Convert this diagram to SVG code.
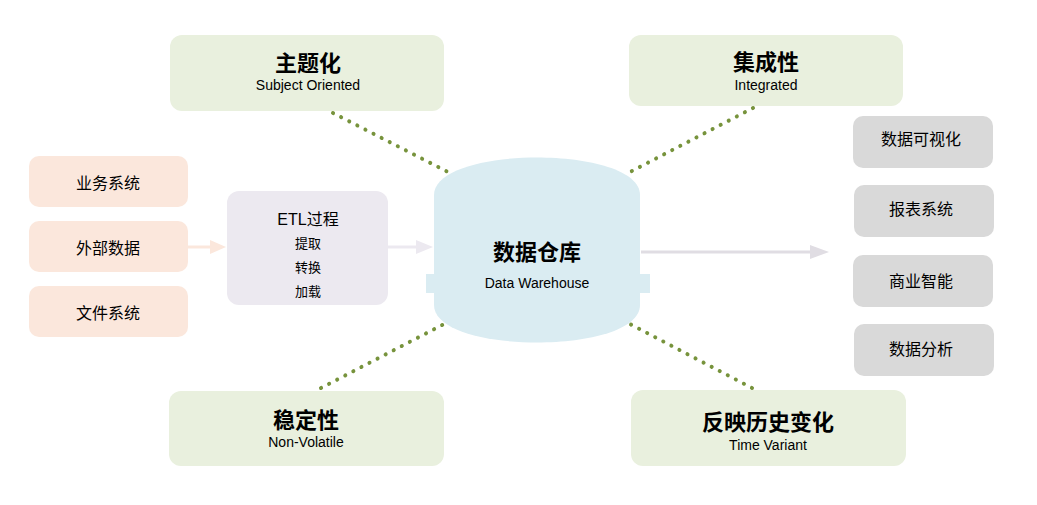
<svg xmlns="http://www.w3.org/2000/svg" width="1037" height="505" viewBox="0 0 1037 505">
<style>
.g{fill:#e9f0de}.s{fill:#fbe7dc}.r{fill:#d9d9d9}
text{font-family:"Liberation Sans","Noto Sans CJK SC",sans-serif;text-anchor:middle;fill:#000}
.t{font-size:22px;font-weight:bold}.st{font-size:14px}.n{font-size:16px}.sm{font-size:13px}
.d{stroke:#77933c;stroke-width:4;stroke-dasharray:0.1 9;stroke-linecap:round;fill:none}
</style>
<rect width="1037" height="505" fill="#fff"/>
<g id="connectors">
<line class="d" x1="333" y1="113" x2="448" y2="172"/>
<line class="d" x1="753" y1="108" x2="630" y2="172"/>
<line class="d" x1="321" y1="388" x2="446" y2="323"/>
<line class="d" x1="752" y1="388" x2="628" y2="323"/>
<line x1="188" y1="247" x2="212" y2="247" stroke="#fbe7dc" stroke-width="3"/>
<polygon points="210,240 226,247 210,254" fill="#fbe7dc"/>
<line x1="388" y1="247" x2="420" y2="247" stroke="#ece9f0" stroke-width="3"/>
<polygon points="416,240 433,247 416,254" fill="#ece9f0"/>
<line x1="641" y1="252" x2="815" y2="252" stroke="#e0dde3" stroke-width="3"/>
<polygon points="810,245 829,252 810,259" fill="#e0dde3"/>
</g>
<g id="n-zhuti"><rect class="g" x="170" y="35" width="274" height="76" rx="12"/><text class="t" x="308" y="71">主题化</text><text class="st" x="308" y="90">Subject Oriented</text></g>
<g id="n-jicheng"><rect class="g" x="629" y="35" width="274" height="71" rx="12"/><text class="t" x="766" y="70">集成性</text><text class="st" x="766" y="90">Integrated</text></g>
<g id="n-wending"><rect class="g" x="169" y="391" width="275" height="75" rx="12"/><text class="t" x="306" y="428">稳定性</text><text class="st" x="306" y="447">Non-Volatile</text></g>
<g id="n-fanying"><rect class="g" x="631" y="390" width="275" height="76" rx="12"/><text class="t" x="768" y="430">反映历史变化</text><text class="st" x="768" y="450">Time Variant</text></g>
<g id="n-yewu"><rect class="s" x="29" y="156" width="159" height="51" rx="10"/><text class="n" x="108" y="189">业务系统</text></g>
<g id="n-waibu"><rect class="s" x="29" y="221" width="159" height="51" rx="10"/><text class="n" x="108" y="254">外部数据</text></g>
<g id="n-wenjian"><rect class="s" x="29" y="286" width="159" height="51" rx="10"/><text class="n" x="108" y="319">文件系统</text></g>
<g id="n-etl"><rect x="227" y="191" width="161" height="114" rx="12" fill="#ece9f0"/><text class="n" x="308" y="225">ETL过程</text><text class="sm" x="308" y="248">提取</text><text class="sm" x="308" y="272">转换</text><text class="sm" x="308" y="296">加载</text></g>
<g id="n-dw"><rect x="426" y="274" width="224" height="19" fill="#daecf2"/><path d="M434,195 C434,145 640,145 640,195 L640,305 C640,355 434,355 434,305 Z" fill="#daecf2"/><text x="537" y="260" style="font-size:22px;font-weight:bold">数据仓库</text><text class="st" x="537" y="288">Data Warehouse</text></g>
<g id="n-kshh"><rect class="r" x="853" y="116" width="140" height="52" rx="10"/><text class="n" x="921" y="145">数据可视化</text></g>
<g id="n-baobiao"><rect class="r" x="854" y="185" width="140" height="52" rx="10"/><text class="n" x="921" y="215">报表系统</text></g>
<g id="n-shangye"><rect class="r" x="853" y="255" width="140" height="52" rx="10"/><text class="n" x="921" y="287">商业智能</text></g>
<g id="n-fenxi"><rect class="r" x="854" y="324" width="140" height="52" rx="10"/><text class="n" x="921" y="355">数据分析</text></g>
</svg>
